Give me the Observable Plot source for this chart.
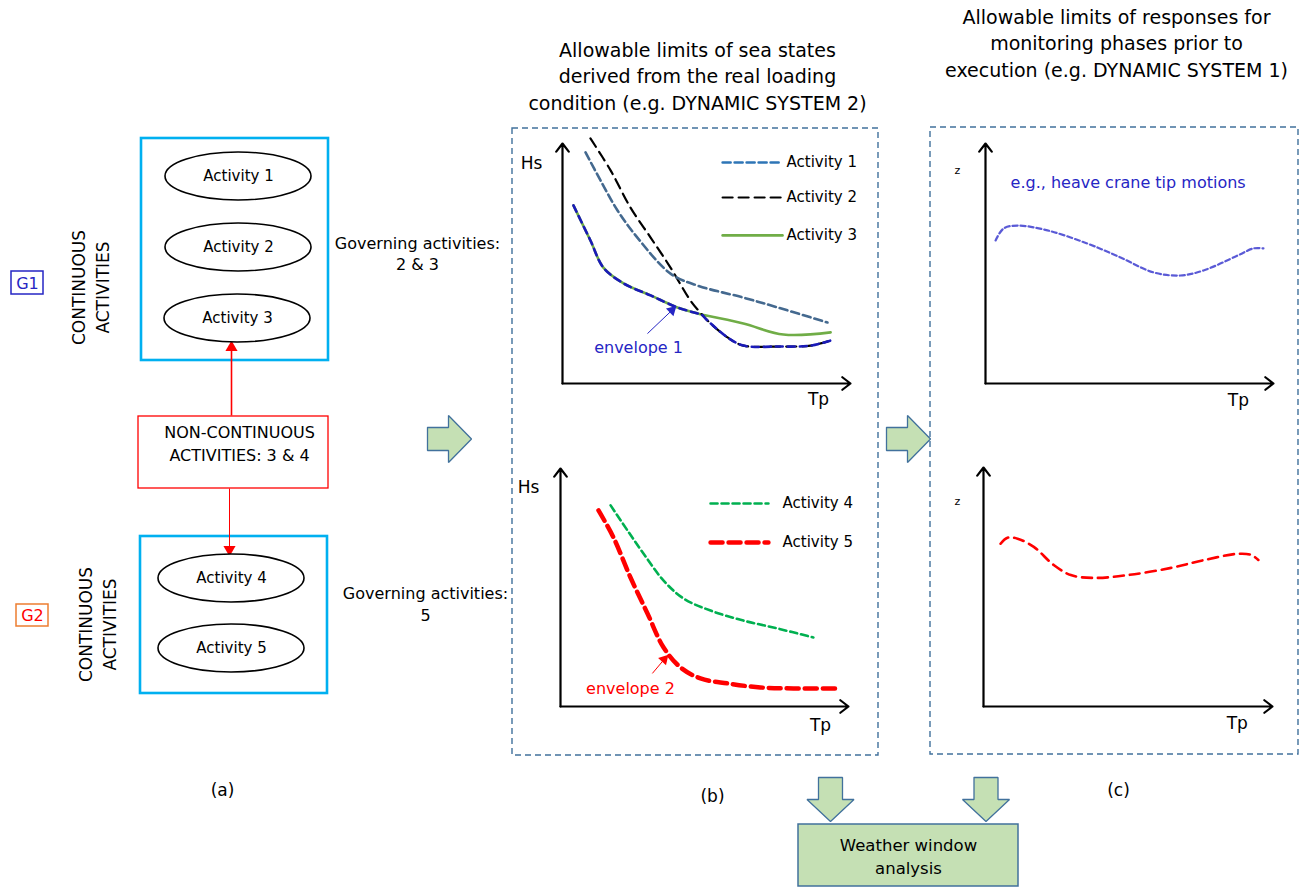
<!DOCTYPE html>
<html><head><meta charset="utf-8">
<script src="https://cdn.jsdelivr.net/npm/d3@7"></script>
<script src="https://cdn.jsdelivr.net/npm/@observablehq/plot@0.6"></script>
<style>
body{margin:0;background:#fff;font-family:"DejaVu Sans",sans-serif;}
#fig{position:relative;width:1308px;height:888px;overflow:hidden;background:#fff;}
#fig svg{position:absolute;}
</style></head><body><div id="fig"></div>
<script>
// ================= DATA =================
const groupG1 = ["Activity 1", "Activity 2", "Activity 3"];
const groupG2 = ["Activity 4", "Activity 5"];
const groupTags = ["G1", "G2"];
const continuousLabel = ["CONTINUOUS", "ACTIVITIES"];
const nonContinuous = ["NON-CONTINUOUS", "ACTIVITIES: 3 & 4"];
const governingTop = ["Governing activities:", "2 & 3"];
const governingBottom = ["Governing activities:", "5"];
const titleB = ["Allowable limits of sea states", "derived from the real loading", "condition (e.g. DYNAMIC SYSTEM 2)"];
const titleC = ["Allowable limits of responses for", "monitoring phases prior to", "execution (e.g. DYNAMIC SYSTEM 1)"];
const panelLabels = ["(a)", "(b)", "(c)"];
const weatherLabel = ["Weather window", "analysis"];
const axisLabels = {x: "Tp", y: "Hs", z: "z"};
const envelopeLabels = ["envelope 1", "envelope 2"];
const responseNote = "e.g., heave crane tip motions";

// Sea-state limits, [Tp, Hs] in arbitrary units (0-10)
const act1 = [[0.80,9.63],[1.32,8.46],[1.91,7.21],[2.60,6.08],[3.75,4.58],[4.69,4.08],[6.28,3.58],[7.47,3.17],[9.20,2.54]];
const act2 = [[0.97,10.21],[1.67,8.88],[2.36,7.33],[3.06,6.08],[3.75,4.83],[4.44,3.46],[4.75,3.00],[5.03,2.63],[5.73,1.92],[6.28,1.58],[7.47,1.54],[8.61,1.58],[9.31,1.79]];
const act3 = [[0.38,7.42],[0.97,5.96],[1.42,4.83],[2.12,4.17],[3.06,3.67],[3.99,3.17],[4.69,2.92],[6.28,2.50],[7.67,2.04],[9.31,2.13]];
const envelope1 = [[0.38,7.42],[0.97,5.96],[1.42,4.83],[2.12,4.17],[3.06,3.67],[3.99,3.17],[4.69,2.92],[4.83,2.87],[5.03,2.63],[5.73,1.92],[6.28,1.58],[7.47,1.54],[8.61,1.58],[9.31,1.79]];
const act4 = [[1.74,8.45],[2.33,7.39],[2.88,6.43],[3.58,5.29],[4.27,4.54],[5.21,4.03],[6.35,3.61],[7.53,3.28],[8.78,2.90]];
const act5 = [[1.32,8.24],[1.84,7.10],[2.43,5.42],[3.02,3.91],[3.58,2.48],[4.17,1.64],[4.86,1.18],[5.80,0.97],[6.94,0.80],[8.09,0.76],[9.55,0.76]];
// Response limits, [Tp, z]
const responseG1 = [[0.35,5.96],[0.63,6.46],[1.11,6.58],[2.15,6.38],[3.54,5.83],[4.69,5.25],[5.83,4.63],[6.77,4.50],[7.57,4.71],[8.75,5.33],[9.31,5.63],[9.65,5.63]];
const responseG2 = [[0.59,6.81],[0.83,7.06],[1.18,7.02],[1.74,6.68],[2.43,5.92],[3.02,5.50],[3.82,5.38],[5.00,5.50],[6.49,5.80],[7.64,6.13],[8.82,6.39],[9.27,6.34],[9.51,6.13]];

// ================= STYLE / LAYOUT =================
const W = 1308, H = 888;
const FONT = "'DejaVu Sans', sans-serif";
const fig = document.getElementById("fig");
const C = {cyan:"#00B0F0", red:"#FF0000", navy:"#2626C4", orange:"#ED7D31", frame:"#41719C",
  arrowFill:"#C5E0B4", a1:"#44698F", a1leg:"#2E75B6", a3:"#70AD47", a4:"#00B050", env:"#1A1AB8", resp1:"#5A5AD6"};

const val = v => () => v;
const P = (d, i) => d[i];

// -------- background diagram (pixel frame) --------
const boxesCyan = [{x1:141,y1:138,x2:328,y2:360},{x1:140,y1:536,x2:327,y2:693}];
const ellipseCentres = [[238,176],[238,247],[237,318],[231,578],[231,648]];
const ellipseNames = [...groupG1, ...groupG2];
const rightArrow = (x0, yc) => [[x0,yc-11.5],[x0+21,yc-11.5],[x0+21,yc-23.5],[x0+44,yc],[x0+21,yc+23.5],[x0+21,yc+11.5],[x0,yc+11.5],[x0,yc-11.5]];
const downArrow = (xc, y0) => [[xc-12,y0],[xc+12,y0],[xc+12,y0+22],[xc+23.5,y0+22],[xc,y0+44],[xc-23.5,y0+22],[xc-12,y0+22],[xc-12,y0]];
const blockArrows = [rightArrow(427,438.5), rightArrow(886,438.5), downArrow(830,777), downArrow(985.5,777)];

const ellipseMark = (index, {x, y}) => {
  const g = d3.create("svg:g").attr("fill","#fff").attr("stroke","#000").attr("stroke-width",1.6);
  ellipseCentres.forEach(([cx, cy]) => {
    g.append("ellipse").attr("cx", x(cx)).attr("cy", y(cy)).attr("rx", x(73) - x(0)).attr("ry", y(24) - y(0));
  });
  return g.node();
};

const textLines = (lines, cx, y0, step, opts) =>
  Plot.text(lines, {x: val(cx), y: (d, i) => y0 + i * step, text: d => d, ...opts});

const bg = Plot.plot({
  width: W, height: H, margin: 0,
  x: {domain: [0, W], range: [0, W], axis: null},
  y: {domain: [0, H], range: [0, H], axis: null},
  style: {fontFamily: FONT, background: "transparent", overflow: "visible"},
  marks: [
    Plot.rect(boxesCyan, {x1:"x1", y1:"y1", x2:"x2", y2:"y2", stroke:C.cyan, strokeWidth:2.6, fill:"none"}),
    Plot.rect([{x1:138,y1:416,x2:328,y2:488}], {x1:"x1", y1:"y1", x2:"x2", y2:"y2", stroke:C.red, strokeWidth:1.3, fill:"none"}),
    Plot.rect([{x1:11,y1:271,x2:43,y2:294}], {x1:"x1", y1:"y1", x2:"x2", y2:"y2", stroke:C.navy, strokeWidth:1.5, fill:"none"}),
    Plot.rect([{x1:16,y1:604,x2:48,y2:626}], {x1:"x1", y1:"y1", x2:"x2", y2:"y2", stroke:C.orange, strokeWidth:1.5, fill:"none"}),
    Plot.rect([{x1:512,y1:128,x2:878,y2:755},{x1:930,y1:127,x2:1298,y2:754}], {x1:"x1", y1:"y1", x2:"x2", y2:"y2", stroke:C.frame, strokeWidth:1.4, strokeDasharray:"6,4", fill:"none"}),
    Plot.rect([{x1:798,y1:824,x2:1018,y2:886}], {x1:"x1", y1:"y1", x2:"x2", y2:"y2", stroke:C.frame, strokeWidth:1.5, fill:C.arrowFill}),
    // red connectors
    Plot.link([[231,415,231,346],[229,488,229,550]], {x1:d=>d[0], y1:d=>d[1], x2:d=>d[2], y2:d=>d[3], stroke:C.red, strokeWidth:(d,i)=> i ? 1 : 1.6}),
    Plot.dot([[231,347,0],[229,549,180]], {x:d=>d[0], y:d=>d[1], rotate:d=>d[2], symbol:"triangle", r:4.5, fill:C.red, stroke:"none"}),
    ellipseMark,
    Plot.text(ellipseNames, {x:(d,i)=>ellipseCentres[i][0], y:(d,i)=>ellipseCentres[i][1], text:d=>d, fontSize:15}),
    // block arrows
    ...blockArrows.map(pts => Plot.line(pts, {x:d=>d[0], y:d=>d[1], fill:C.arrowFill, stroke:C.frame, strokeWidth:1.3, strokeLinejoin:"miter"})),
    // group tags
    Plot.text([groupTags[0]], {x:val(27), y:val(283), text:d=>d, fill:C.navy, fontSize:16}),
    Plot.text([groupTags[1]], {x:val(32), y:val(615), text:d=>d, fill:C.red, fontSize:16}),
    Plot.text([continuousLabel.join("\n")], {x:val(89), y:val(287), text:d=>d, rotate:-90, fontSize:17, lineHeight:1.42}),
    Plot.text([continuousLabel.join("\n")], {x:val(95.5), y:val(624), text:d=>d, rotate:-90, fontSize:17, lineHeight:1.42}),
    textLines(nonContinuous, 239, 432, 23, {fontSize:16}),
    textLines(governingTop, 417, 243, 21, {fontSize:16}),
    textLines(governingBottom, 425, 593, 22, {fontSize:16}),
    textLines(titleB, 697, 50, 26.5, {fontSize:19}),
    textLines(titleC, 1116, 17, 26.5, {fontSize:19}),
    textLines(weatherLabel, 908, 845, 23, {fontSize:16.5}),
    Plot.text(panelLabels, {x:(d,i)=>[222,712,1118][i], y:(d,i)=>[790,796,790][i], text:d=>d, fontSize:17})
  ]
});
bg.style.left = "0px"; bg.style.top = "0px";
fig.append(bg);

// -------- chart insets (data units 0-10) --------
function inset(o, marks) {
  const mL = 60, mR = 40, mT = 30, mB = 40;
  const w = o.xt - o.ox + mL + mR, h = o.oy - o.yt + mT + mB;
  const svg = Plot.plot({
    width: w, height: h, marginLeft: mL, marginRight: mR, marginTop: mT, marginBottom: mB,
    x: {domain: [0, 10], axis: null}, y: {domain: [0, 10], axis: null},
    style: {fontFamily: FONT, background: "transparent", overflow: "visible"},
    marks: [
      ...marks,
      Plot.arrow([[0,0,10,0],[0,0,0,10]], {x1:d=>d[0], y1:d=>d[1], x2:d=>d[2], y2:d=>d[3], stroke:"#000", strokeWidth:2.2, headLength:7, headAngle:75})
    ]
  });
  svg.style.left = (o.ox - mL) + "px";
  svg.style.top = (o.yt - mT) + "px";
  fig.append(svg);
}
const curve = (pts, style) => Plot.line(pts, {x:d=>d[0], y:d=>d[1], curve:"catmull-rom", fill:"none", ...style});
const legendRow = (x1, x2, xt, y, label, style) => [
  Plot.line([[x1,y],[x2,y]], {x:d=>d[0], y:d=>d[1], ...style}),
  Plot.text([label], {x:val(xt), y:val(y), text:d=>d, textAnchor:"start", fontSize:15})
];
const pointer = (from, to, colour, rot) => [
  Plot.link([[...from, ...to]], {x1:d=>d[0], y1:d=>d[1], x2:d=>d[2], y2:d=>d[3], stroke:colour, strokeWidth:1}),
  Plot.dot([to], {x:d=>d[0], y:d=>d[1], symbol:"triangle", r:4, rotate:rot, fill:colour, stroke:"none"})
];

const sA1 = {stroke:C.a1, strokeWidth:2.6, strokeDasharray:"8,4"};
const sA2 = {stroke:"#000", strokeWidth:2.2, strokeDasharray:"10,6"};
const sA3 = {stroke:C.a3, strokeWidth:2.6};
const sEnv = {stroke:C.env, strokeWidth:2.6, strokeDasharray:"7,5"};
const sA4 = {stroke:C.a4, strokeWidth:2.6, strokeDasharray:"7,4"};
const sA5 = {stroke:C.red, strokeWidth:4.5, strokeDasharray:"12,6"};

// (b) top
inset({ox:562, oy:383, xt:850, yt:143}, [
  curve(act3, sA3), curve(act2, sA2), curve(act1, sA1), curve(envelope1, sEnv),
  ...legendRow(5.56, 7.64, 7.78, 9.21, groupG1[0], {...sA1, stroke:C.a1leg}),
  ...legendRow(5.56, 7.64, 7.78, 7.75, groupG1[1], sA2),
  ...legendRow(5.56, 7.64, 7.78, 6.17, groupG1[2], sA3),
  Plot.text([axisLabels.y], {x:val(0), y:val(9.17), dx:-31, text:d=>d, fontSize:17}),
  Plot.text([axisLabels.x], {x:val(8.89), y:val(0), dy:16, text:d=>d, fontSize:17}),
  Plot.text([envelopeLabels[0]], {x:val(2.64), y:val(1.5), text:d=>d, fill:C.navy, fontSize:16}),
  ...pointer([2.95,2.08], [3.8,3.05], C.navy, 46)
]);
// (b) bottom
inset({ox:560, oy:706, xt:848, yt:468}, [
  curve(act4, sA4), curve(act5, sA5),
  ...legendRow(5.21, 7.22, 7.71, 8.53, groupG2[0], sA4),
  ...legendRow(5.21, 7.22, 7.71, 6.89, groupG2[1], sA5),
  Plot.text([axisLabels.y], {x:val(0), y:val(9.2), dx:-32, text:d=>d, fontSize:17}),
  Plot.text([axisLabels.x], {x:val(9.03), y:val(0), dy:19, text:d=>d, fontSize:17}),
  Plot.text([envelopeLabels[1]], {x:val(2.43), y:val(0.76), text:d=>d, fill:C.red, fontSize:16}),
  ...pointer([3.19,1.39], [3.6,1.98], C.red, 43)
]);
// (c) top
inset({ox:985, oy:383, xt:1273, yt:143}, [
  curve(responseG1, {stroke:C.resp1, strokeWidth:2.2, strokeDasharray:"5,3"}),
  Plot.text([axisLabels.z], {x:val(0), y:val(8.88), dx:-28, text:d=>d, fontSize:11}),
  Plot.text([axisLabels.x], {x:val(8.78), y:val(0), dy:17, text:d=>d, fontSize:17}),
  Plot.text([responseNote], {x:val(0.87), y:val(8.38), text:d=>d, textAnchor:"start", fill:C.navy, fontSize:16})
]);
// (c) bottom
inset({ox:983, oy:706, xt:1272, yt:467}, [
  curve(responseG2, {stroke:C.red, strokeWidth:2.6, strokeDasharray:"10,6"}),
  Plot.text([axisLabels.z], {x:val(0), y:val(8.57), dx:-26, text:d=>d, fontSize:11}),
  Plot.text([axisLabels.x], {x:val(8.78), y:val(0), dy:17, text:d=>d, fontSize:17})
]);
</script></body></html>
